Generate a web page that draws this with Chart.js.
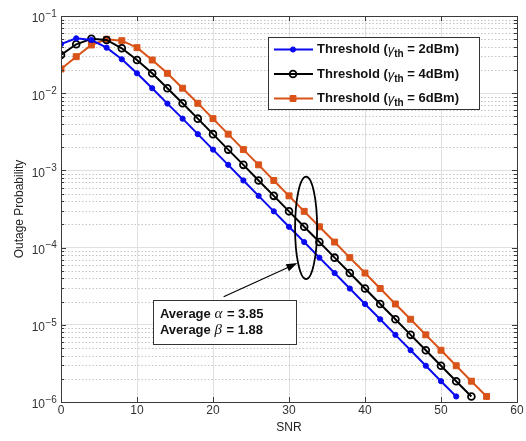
<!DOCTYPE html>
<html lang="en">
<head>
<meta charset="UTF-8">
<title>Outage Probability vs SNR</title>
<script src="https://cdn.jsdelivr.net/npm/chart.js"></script>
<style>
    body { margin: 0; padding: 0; background: #fff; }
    #wrap { width: 526px; height: 441px; }
</style>
</head>
<body>
<div id="wrap"><canvas id="outage-chart" width="526" height="441"></canvas></div>
<script>
    // SNR points (dB) for each curve
    const snr2 = [0, 2, 4, 6, 8, 10, 12, 14, 16, 18, 20, 22, 24, 26, 28, 30, 32, 34, 36, 38, 40, 42, 44, 46, 48, 50, 52];
    const snr4 = [0, 2, 4, 6, 8, 10, 12, 14, 16, 18, 20, 22, 24, 26, 28, 30, 32, 34, 36, 38, 40, 42, 44, 46, 48, 50, 52, 54];
    const snr6 = [0, 2, 4, 6, 8, 10, 12, 14, 16, 18, 20, 22, 24, 26, 28, 30, 32, 34, 36, 38, 40, 42, 44, 46, 48, 50, 52, 54, 56];

    // outage probability
    const outage2 = [4.34e-2, 5.14e-2, 4.89e-2, 3.89e-2, 2.75e-2, 1.81e-2, 1.16e-2, 7.33e-3, 4.68e-3,
        2.95e-3, 1.86e-3, 1.18e-3, 7.41e-4, 4.68e-4, 2.95e-4, 1.86e-4, 1.18e-4, 7.41e-5, 4.68e-5,
        2.95e-5, 1.86e-5, 1.18e-5, 7.41e-6, 4.68e-6, 2.95e-6, 1.86e-6, 1.18e-6];
    const outage4 = [3.13e-2, 4.30e-2, 5.08e-2, 4.89e-2, 3.82e-2, 2.69e-2, 1.81e-2, 1.16e-2, 7.40e-3,
        4.68e-3, 2.95e-3, 1.86e-3, 1.18e-3, 7.41e-4, 4.68e-4, 2.95e-4, 1.86e-4, 1.18e-4, 7.41e-5,
        4.68e-5, 2.95e-5, 1.86e-5, 1.18e-5, 7.41e-6, 4.68e-6, 2.95e-6, 1.86e-6, 1.18e-6];
    const outage6 = [2.06e-2, 2.97e-2, 4.21e-2, 4.99e-2, 4.79e-2, 3.89e-2, 2.69e-2, 1.81e-2, 1.16e-2,
        7.40e-3, 4.68e-3, 2.95e-3, 1.86e-3, 1.18e-3, 7.41e-4, 4.68e-4, 2.95e-4, 1.86e-4, 1.18e-4,
        7.41e-5, 4.68e-5, 2.95e-5, 1.86e-5, 1.18e-5, 7.41e-6, 4.68e-6, 2.95e-6, 1.86e-6, 1.18e-6];

    const thresholds = ['2dBm', '4dBm', '6dBm'];
    const yExponents = [-1, -2, -3, -4, -5, -6];
    const avgAlpha = '3.85';
    const avgBeta = '1.88';

    const FONT = '"Liberation Sans", Arial, sans-serif';
    const SERIF = '"Liberation Serif", "Times New Roman", serif';

    // annotation placement, in data units
    const note = {
        ellLeft: 30.8, ellRight: 33.7, ellTop: 8.3e-4, ellBottom: 3.9e-5,
        arrowFrom: [21.4, 2.3e-5], arrowTo: [31.1, 6.3e-5],
        boxLeft: 12.1, boxRight: 30.9, boxTop: 2.1e-5, boxBottom: 5.6e-6
    };

    const toPoints = (xs, ys) => xs.map((x, i) => ({ x: x, y: ys[i] }));
    const isDecade = v => Math.abs(Math.log10(v) - Math.round(Math.log10(v))) < 1e-6;

    const series = [
        { data: toPoints(snr2, outage2), color: '#0a0af0', style: 'circle', radius: 2.6, fill: '#0a0af0', bw: 1 },
        { data: toPoints(snr4, outage4), color: '#000000', style: 'circle', radius: 3.4, fill: 'rgba(0,0,0,0)', bw: 1.8 },
        { data: toPoints(snr6, outage6), color: '#d95319', style: 'rect', radius: 4.2, fill: '#d95319', bw: 1 }
    ];

    // draw text made of runs with different fonts
    function drawRuns(ctx, x, y, runs) {
        runs.forEach(r => {
            ctx.font = r.font;
            ctx.fillText(r.text, x, y + (r.dy || 0));
            x += ctx.measureText(r.text).width + (r.gap || 0);
        });
        return x;
    }

    function drawMarker(ctx, s, x, y) {
        ctx.save();
        ctx.fillStyle = s.fill;
        ctx.strokeStyle = s.color;
        ctx.lineWidth = s.bw;
        ctx.beginPath();
        if (s.style === 'rect') {
            const h = s.radius * Math.SQRT1_2;
            ctx.rect(x - h, y - h, 2 * h, 2 * h);
        } else {
            ctx.arc(x, y, s.radius, 0, Math.PI * 2);
        }
        ctx.fill();
        ctx.stroke();
        ctx.restore();
    }

    const decorPlugin = {
        id: 'decor',
        beforeDatasetsDraw(chart) {
            const { ctx, chartArea: a, scales: { y } } = chart;
            ctx.save();
            ctx.strokeStyle = '#c4c4c4';
            ctx.lineWidth = 1;
            ctx.setLineDash([1.5, 2]);
            for (let k = -6; k < -1; k++) {
                for (let m = 2; m <= 9; m++) {
                    const py = Math.round(y.getPixelForValue(m * Math.pow(10, k))) + 0.5;
                    ctx.beginPath();
                    ctx.moveTo(a.left, py);
                    ctx.lineTo(a.right, py);
                    ctx.stroke();
                }
            }
            ctx.restore();
        },
        afterDatasetsDraw(chart) {
            const { ctx, chartArea: a, scales: { x, y } } = chart;
            ctx.save();
            // axes box
            ctx.strokeStyle = '#3a3a3a';
            ctx.lineWidth = 1;
            ctx.strokeRect(Math.round(a.left) + 0.5, Math.round(a.top) + 0.5,
                Math.round(a.right - a.left), Math.round(a.bottom - a.top));

            // inward ticks
            ctx.beginPath();
            for (let k = -6; k <= -1; k++) {
                for (let m = 1; m <= 9; m++) {
                    const v = m * Math.pow(10, k);
                    if (v > 0.1) break;
                    const len = m === 1 ? 5 : 3;
                    const py = Math.round(y.getPixelForValue(v)) + 0.5;
                    ctx.moveTo(a.left, py); ctx.lineTo(a.left + len, py);
                    ctx.moveTo(a.right, py); ctx.lineTo(a.right - len, py);
                }
            }
            for (let v = 10; v < 60; v += 10) {
                const px = Math.round(x.getPixelForValue(v)) + 0.5;
                ctx.moveTo(px, a.bottom); ctx.lineTo(px, a.bottom - 5);
                ctx.moveTo(px, a.top); ctx.lineTo(px, a.top + 5);
            }
            ctx.stroke();

            // y tick labels 10^k
            ctx.fillStyle = '#333';
            ctx.textBaseline = 'middle';
            yExponents.forEach(e => {
                const py = y.getPixelForValue(Math.pow(10, e));
                ctx.textAlign = 'right';
                ctx.font = '12px ' + FONT;
                ctx.fillText('10', a.left - 16, py + 3);
                ctx.textAlign = 'left';
                ctx.font = '10px ' + FONT;
                ctx.fillText('\u2212' + Math.abs(e), a.left - 15.5, py - 2);
            });
            ctx.restore();
        },
        afterDraw(chart) {
            const { ctx, chartArea: a, scales: { x, y } } = chart;
            ctx.save();

            // legend
            const lx = a.right - 249, ly = a.top + 21, lw = 211, lh = 72;
            ctx.fillStyle = '#fff';
            ctx.fillRect(lx, ly, lw, lh);
            ctx.strokeStyle = '#333';
            ctx.lineWidth = 1;
            ctx.strokeRect(Math.round(lx) + 0.5, Math.round(ly) + 0.5, lw, lh);
            series.forEach((s, i) => {
                const ry = ly + 12.5 + i * 24.5;
                ctx.strokeStyle = s.color;
                ctx.lineWidth = 2;
                ctx.beginPath();
                ctx.moveTo(lx + 6, ry);
                ctx.lineTo(lx + 45, ry);
                ctx.stroke();
                drawMarker(ctx, s, lx + 25, ry);
                ctx.fillStyle = '#111';
                ctx.textAlign = 'left';
                ctx.textBaseline = 'middle';
                drawRuns(ctx, lx + 49, ry, [
                    { text: 'Threshold (', font: 'bold 13px ' + FONT },
                    { text: '\u03b3', font: 'italic 13px ' + FONT, dy: 1 },
                    { text: 'th', font: 'bold 10px ' + FONT, dy: 5 },
                    { text: ' = ' + thresholds[i] + ')', font: 'bold 13px ' + FONT }
                ]);
            });

            // ellipse around the curves
            const ex0 = x.getPixelForValue(note.ellLeft), ex1 = x.getPixelForValue(note.ellRight);
            const ey0 = y.getPixelForValue(note.ellTop), ey1 = y.getPixelForValue(note.ellBottom);
            ctx.strokeStyle = '#000';
            ctx.lineWidth = 1.8;
            ctx.beginPath();
            ctx.ellipse((ex0 + ex1) / 2, (ey0 + ey1) / 2, (ex1 - ex0) / 2, (ey1 - ey0) / 2, 0, 0, Math.PI * 2);
            ctx.stroke();

            // arrow
            const ax0 = x.getPixelForValue(note.arrowFrom[0]), ay0 = y.getPixelForValue(note.arrowFrom[1]);
            const ax1 = x.getPixelForValue(note.arrowTo[0]), ay1 = y.getPixelForValue(note.arrowTo[1]);
            const ang = Math.atan2(ay1 - ay0, ax1 - ax0);
            ctx.lineWidth = 1.1;
            ctx.beginPath();
            ctx.moveTo(ax0, ay0);
            ctx.lineTo(ax1 - 8 * Math.cos(ang), ay1 - 8 * Math.sin(ang));
            ctx.stroke();
            ctx.fillStyle = '#000';
            ctx.beginPath();
            ctx.moveTo(ax1, ay1);
            ctx.lineTo(ax1 - 11 * Math.cos(ang) + 3.8 * Math.sin(ang), ay1 - 11 * Math.sin(ang) - 3.8 * Math.cos(ang));
            ctx.lineTo(ax1 - 11 * Math.cos(ang) - 3.8 * Math.sin(ang), ay1 - 11 * Math.sin(ang) + 3.8 * Math.cos(ang));
            ctx.closePath();
            ctx.fill();

            // text box
            const bx0 = x.getPixelForValue(note.boxLeft), bx1 = x.getPixelForValue(note.boxRight);
            const by0 = y.getPixelForValue(note.boxTop), by1 = y.getPixelForValue(note.boxBottom);
            ctx.fillStyle = '#fff';
            ctx.fillRect(bx0, by0, bx1 - bx0, by1 - by0);
            ctx.strokeStyle = '#333';
            ctx.lineWidth = 1;
            ctx.strokeRect(Math.round(bx0) + 0.5, Math.round(by0) + 0.5, Math.round(bx1 - bx0), Math.round(by1 - by0));
            ctx.fillStyle = '#111';
            ctx.textAlign = 'left';
            ctx.textBaseline = 'middle';
            drawRuns(ctx, bx0 + 7, by0 + 14.5, [
                { text: 'Average ', font: 'bold 13px ' + FONT },
                { text: '\u03b1', font: 'italic 15px ' + SERIF, gap: 1 },
                { text: ' = ' + avgAlpha, font: 'bold 13px ' + FONT }
            ]);
            drawRuns(ctx, bx0 + 7, by0 + 30.5, [
                { text: 'Average ', font: 'bold 13px ' + FONT },
                { text: '\u03b2', font: 'italic 15px ' + SERIF, gap: 1 },
                { text: ' = ' + avgBeta, font: 'bold 13px ' + FONT }
            ]);
            ctx.restore();
        }
    };

    Chart.defaults.font.family = FONT;

    new Chart(document.getElementById('outage-chart'), {
        type: 'line',
        data: {
            datasets: series.map((s, i) => ({
                label: 'Threshold (\u03b3th = ' + thresholds[i] + ')',
                data: s.data,
                borderColor: s.color,
                backgroundColor: s.fill,
                borderWidth: 2,
                pointStyle: s.style,
                pointRadius: s.radius,
                pointBorderWidth: s.bw,
                pointBackgroundColor: s.fill,
                pointBorderColor: s.color,
                tension: 0,
                fill: false
            }))
        },
        options: {
            responsive: false,
            animation: false,
            devicePixelRatio: 1,
            layout: { padding: { top: 16, right: 9, left: 0, bottom: 0 } },
            plugins: { legend: { display: false }, tooltip: { enabled: false } },
            scales: {
                x: {
                    type: 'linear',
                    min: 0,
                    max: 60,
                    ticks: { stepSize: 10, color: '#333', font: { size: 12 }, padding: 1, maxRotation: 0 },
                    grid: { color: '#e0e0e0', drawTicks: false },
                    border: { display: false },
                    title: { display: true, text: 'SNR', color: '#222', font: { size: 12 }, padding: { top: 0, bottom: 6 } },
                    afterFit: s => { s.height = 39; }
                },
                y: {
                    type: 'logarithmic',
                    min: 1e-6,
                    max: 1e-1,
                    ticks: { display: false },
                    grid: {
                        color: ctx => (ctx.tick && isDecade(ctx.tick.value)) ? '#e0e0e0' : 'rgba(0,0,0,0)',
                        drawTicks: false
                    },
                    border: { display: false },
                    title: { display: true, text: 'Outage Probability', color: '#222', font: { size: 12 }, padding: { top: 12, bottom: 0 } },
                    afterFit: s => { s.width = 61; }
                }
            }
        },
        plugins: [decorPlugin]
    });
</script>
</body>
</html>
